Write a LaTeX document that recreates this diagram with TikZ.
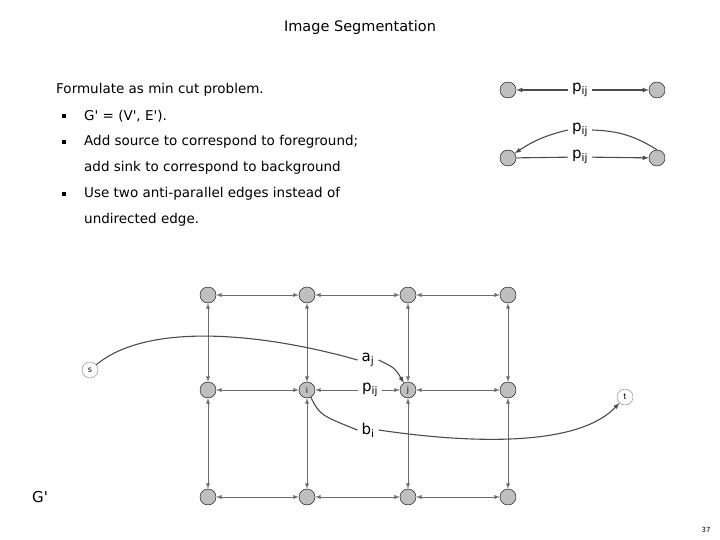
\documentclass[tikz,border=0pt]{standalone}
\usepackage{fontspec}
\setmainfont[Ligatures=TeX]{DejaVu Sans}
\newcommand{\sq}{\textquotesingle}
\begin{document}
\begin{tikzpicture}[x=1pt,y=-1pt,
  vtx/.style={circle,draw=black,fill=gray!50,minimum size=16pt,inner sep=0pt,font=\fontsize{8}{8}\selectfont},
  gedge/.style={draw=gray!85!black,line width=0.9pt,<->,>=latex},
  dedge/.style={draw=black!70,line width=1.1pt,->,>=latex},
  lab/.style={font=\fontsize{15}{15}\selectfont,inner sep=4pt},
  txt/.style={font=\fontsize{13.5}{16}\selectfont,anchor=west,inner sep=0pt}]
\useasboundingbox (0,0) rectangle (720,540);
\node[font=\fontsize{14.5}{14}\selectfont] (title) at (360,28) {Image Segmentation};
\node[txt] (t0) at (56,90) {Formulate as min cut problem.};
\node[txt] (t1) at (84,116) {G\sq{} = (V\sq, E\sq).};
\node[txt] (t2) at (84,142) {Add source to correspond to foreground;};
\node[txt] (t3) at (84,168) {add sink to correspond to background};
\node[txt] (t4) at (84,194) {Use two anti-parallel edges instead of};
\node[txt] (t5) at (84,220) {undirected edge.};
\foreach \y/\n in {116/b1,142/b2,194/b3} \node[fill=black,inner sep=1.6pt] (\n) at (64,\y) {};
% top right
\node[vtx] (L1) at (508,90) {}; \node[vtx] (R1) at (657,90) {};
\node[lab] (p1) at (580,90) {p$_{\mathrm{ij}}$};
\draw[dedge] (p1) -- (L1); \draw[dedge] (p1) -- (R1);
\node[vtx] (L2) at (508,158) {}; \node[vtx] (R2) at (657,158) {};
\node[lab] (p2) at (580,130) {p$_{\mathrm{ij}}$};
\node[lab] (p3) at (580,157) {p$_{\mathrm{ij}}$};
\draw[dedge] (p2.west) to[bend right=10] (L2);
\draw[dedge,-] (p2.east) to[bend left=15] (R2.north);
\draw[dedge,-] (L2) -- (p3); \draw[dedge] (p3) -- (R2);
% grid
\foreach \c/\x in {1/208,2/307,3/408,4/508}
  \foreach \r/\y in {1/295,2/390,3/497}
    \node[vtx] (g\c\r) at (\x,\y) {};
\node[font=\fontsize{8}{8}\selectfont] at (g22) {i};
\node[font=\fontsize{8}{8}\selectfont] at (g32) {j};
\foreach \r in {1,2,3}{
  \draw[gedge] (g1\r) -- (g2\r);
  \draw[gedge] (g3\r) -- (g4\r);}
\draw[gedge] (g21) -- (g31); \draw[gedge] (g23) -- (g33);
\foreach \c in {1,2,3,4}{
  \draw[gedge] (g\c1) -- (g\c2);
  \draw[gedge] (g\c2) -- (g\c3);}
\node[lab] (pij) at (370,390) {p$_{\mathrm{ij}}$};
\draw[gedge,->] (pij) -- (g22); \draw[gedge,->] (pij) -- (g32);
\node[vtx,fill=white,draw=gray] (s) at (90,370) {s};
\node[vtx,fill=white,draw=gray] (t) at (625,397) {t};
\node[lab] (aj) at (368,360) {a$_{\mathrm{j}}$};
\node[lab] (bi) at (368,430) {b$_{\mathrm{i}}$};
\draw[dedge,-] (s) .. controls (150,320) and (270,335) .. (aj.west);
\draw[dedge] (aj.east) .. controls (395,368) .. (g32);
\draw[dedge,-] (g22) .. controls (320,415) .. (bi.west);
\draw[dedge] (bi.east) .. controls (480,445) and (580,445) .. (t);
\node[font=\fontsize{15}{15}\selectfont] (G) at (40,497) {G\sq};
\node[font=\fontsize{7}{7}\selectfont] (pg) at (706,530) {37};
\end{tikzpicture}
\end{document}
